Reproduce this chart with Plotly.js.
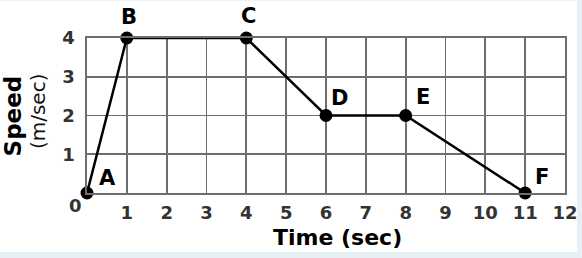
<!DOCTYPE html>
<html>
<head>
<meta charset="utf-8">
<script src="https://cdn.plot.ly/plotly-3.0.1.min.js"></script>
<style>html,body{margin:0;padding:0;background:#e7f0f4;}#chart{width:582px;height:258px;}</style>
</head>
<body>
<div id="chart"></div>
<script>
// Data
const pointLabels = ["A", "B", "C", "D", "E", "F"];
const timeSec = [0, 1, 4, 6, 8, 11];
const speed = [0, 4, 4, 2, 2, 0];
const xTickVals = [1, 2, 3, 4, 5, 6, 7, 8, 9, 10, 11, 12];
const xTickText = ["1", "2", "3", "4", "5", "6", "7", "8", "9", "10", "11", "12"];
const yTickVals = [1, 2, 3, 4];
const yTickText = ["1", "2", "3", "4"];
const xTitle = "Time (sec)";
const yTitleMain = "Speed";
const yTitleSub = "(m/sec)";
const originLabel = "0";

// label offsets (pixels) relative to each point
const labelShifts = [[20, 15], [2, 21], [2, 22], [13, 18], [17, 19], [17, 16]];

const boldFont = {family: "DejaVu Sans", size: 22, color: "#000"};
const tickFont = {family: "DejaVu Sans", size: 18, color: "#333", weight: "bold"};

const annotations = pointLabels.map((t, i) => ({
  x: timeSec[i], y: speed[i], xref: "x", yref: "y", text: "<b>" + t + "</b>",
  showarrow: false, xanchor: "center", yanchor: "middle",
  xshift: labelShifts[i][0], yshift: labelShifts[i][1],
  font: {family: "DejaVu Sans", size: 21, color: "#000"}
}));
annotations.push({
  x: 0, y: 0, xref: "x", yref: "y", text: originLabel, showarrow: false,
  xanchor: "center", yanchor: "middle", xshift: -12, yshift: -12, font: tickFont
});
annotations.push({
  x: 0.524, y: -0.29, xref: "paper", yref: "paper", text: "<b>" + xTitle + "</b>",
  showarrow: false, xanchor: "center", yanchor: "middle", font: boldFont
});
annotations.push({
  x: -0.155, y: 0.5, xref: "paper", yref: "paper", text: "<b>" + yTitleMain + "</b>",
  showarrow: false, xanchor: "center", yanchor: "middle", textangle: -90,
  font: {family: "DejaVu Sans", size: 23, color: "#000"}
});
annotations.push({
  x: -0.102, y: 0.53, xref: "paper", yref: "paper", text: yTitleSub,
  showarrow: false, xanchor: "center", yanchor: "middle", textangle: -90,
  font: {family: "DejaVu Sans", size: 20, color: "#111"}
});

const trace = {
  x: timeSec, y: speed, type: "scatter", mode: "lines+markers",
  line: {color: "#000", width: 2.5},
  marker: {color: "#000", size: 13},
  cliponaxis: false, hoverinfo: "none"
};

const gridColor = "#6e6e6e";
const layout = {
  width: 582, height: 258,
  margin: {l: 87, r: 17, t: 38, b: 65, pad: 0},
  paper_bgcolor: "#e7f0f4",
  plot_bgcolor: "rgba(0,0,0,0)",
  showlegend: false,
  xaxis: {
    range: [0, 12], tickvals: xTickVals, ticktext: xTickText,
    showgrid: true, gridcolor: gridColor, gridwidth: 1.7,
    showline: true, linecolor: gridColor, linewidth: 1.7, mirror: true,
    zeroline: false, ticks: "", tickfont: tickFont, ticklabelstandoff: 3, fixedrange: true
  },
  yaxis: {
    range: [0, 4], tickvals: yTickVals, ticktext: yTickText,
    showgrid: true, gridcolor: gridColor, gridwidth: 1.7,
    showline: true, linecolor: gridColor, linewidth: 1.7, mirror: true,
    zeroline: false, ticks: "", tickfont: tickFont, ticklabelstandoff: 7, fixedrange: true
  },
  shapes: [{
    type: "rect", xref: "paper", yref: "paper", layer: "below",
    x0: -0.19, x1: 1.025, y0: -0.381, y1: 1.24,
    fillcolor: "#ffffff", line: {width: 0}
  }],
  annotations: annotations
};

Plotly.newPlot("chart", [trace], layout, {staticPlot: true, displayModeBar: false});
</script>
</body>
</html>
